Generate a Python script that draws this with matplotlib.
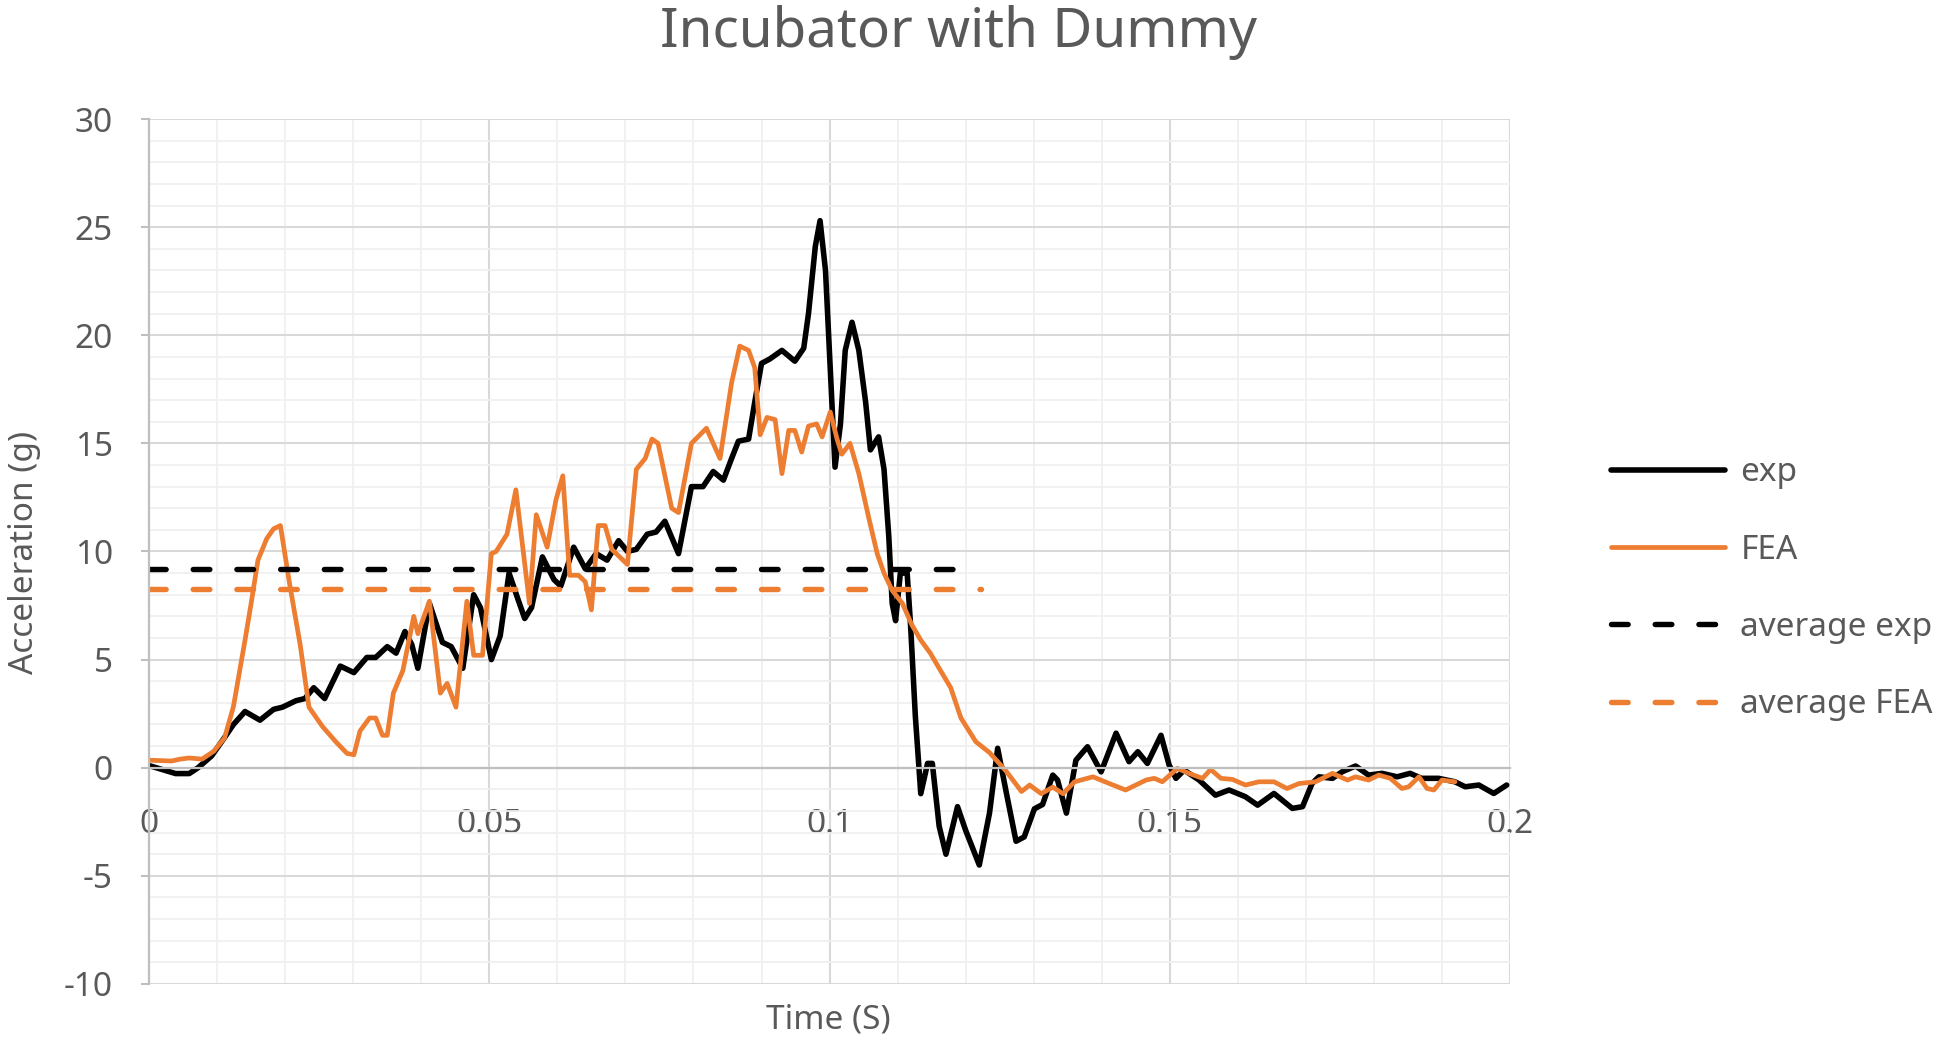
import matplotlib.pyplot as plt
from matplotlib.ticker import MultipleLocator, FuncFormatter

# measured curve (exp)
exp_time = [0.0000, 0.0026, 0.0039, 0.0059, 0.0072, 0.0092, 0.0111, 0.0124, 0.0141, 0.0163,
            0.0183, 0.0196, 0.0216, 0.0229, 0.0242, 0.0258, 0.0281, 0.0301, 0.0320, 0.0333,
            0.0350, 0.0363, 0.0376, 0.0386, 0.0395, 0.0412, 0.0431, 0.0444, 0.0461, 0.0477,
            0.0487, 0.0503, 0.0516, 0.0529, 0.0542, 0.0552, 0.0562, 0.0578, 0.0595, 0.0605,
            0.0624, 0.0641, 0.0657, 0.0673, 0.0690, 0.0703, 0.0716, 0.0732, 0.0745, 0.0758,
            0.0778, 0.0797, 0.0814, 0.0829, 0.0844, 0.0856, 0.0866, 0.0881, 0.0890, 0.0900,
            0.0912, 0.0930, 0.0949, 0.0962, 0.0969, 0.0979, 0.0986, 0.0994, 0.1001, 0.1008,
            0.1016, 0.1023, 0.1033, 0.1043, 0.1053, 0.1060, 0.1072, 0.1080, 0.1087, 0.1092,
            0.1097, 0.1104, 0.1114, 0.1119, 0.1126, 0.1134, 0.1144, 0.1151, 0.1161, 0.1171,
            0.1188, 0.1200, 0.1220, 0.1235, 0.1247, 0.1260, 0.1274, 0.1286, 0.1301, 0.1313,
            0.1328, 0.1335, 0.1348, 0.1362, 0.1379, 0.1399, 0.1421, 0.1440, 0.1453, 0.1467,
            0.1487, 0.1499, 0.1509, 0.1521, 0.1543, 0.1567, 0.1587, 0.1611, 0.1629, 0.1653,
            0.1680, 0.1695, 0.1709, 0.1719, 0.1739, 0.1753, 0.1773, 0.1792, 0.1812, 0.1834,
            0.1853, 0.1870, 0.1895, 0.1919, 0.1934, 0.1954, 0.1976, 0.1995]
exp_acc = [0.10, -0.15, -0.27, -0.27, 0.00, 0.55, 1.40, 2.00, 2.60, 2.20,
           2.70, 2.80, 3.10, 3.20, 3.70, 3.20, 4.70, 4.40, 5.10, 5.10,
           5.60, 5.30, 6.30, 5.70, 4.60, 7.60, 5.80, 5.60, 4.60, 8.00,
           7.40, 5.00, 6.10, 9.00, 7.80, 6.90, 7.40, 9.75, 8.70, 8.40,
           10.20, 9.20, 9.90, 9.60, 10.50, 10.00, 10.10, 10.80, 10.90, 11.40,
           9.90, 13.00, 13.00, 13.70, 13.30, 14.30, 15.10, 15.20, 16.90, 18.70,
           18.90, 19.30, 18.80, 19.40, 21.00, 24.10, 25.30, 23.00, 18.50, 13.90,
           15.90, 19.30, 20.60, 19.30, 16.90, 14.70, 15.30, 13.80, 10.70, 7.60,
           6.80, 9.00, 9.00, 6.60, 2.40, -1.20, 0.20, 0.20, -2.70, -4.00,
           -1.80, -2.90, -4.50, -2.10, 0.90, -1.20, -3.40, -3.20, -1.90, -1.70,
           -0.34, -0.57, -2.10, 0.35, 0.97, -0.19, 1.60, 0.28, 0.74, 0.20,
           1.50, 0.12, -0.49, -0.11, -0.57, -1.27, -1.03, -1.34, -1.73, -1.19,
           -1.88, -1.80, -0.73, -0.42, -0.49, -0.19, 0.08, -0.34, -0.26, -0.42,
           -0.26, -0.49, -0.49, -0.65, -0.88, -0.80, -1.19, -0.80]

# simulation curve (FEA)
fea_time = [0.0000, 0.0033, 0.0046, 0.0059, 0.0078, 0.0095, 0.0111, 0.0124, 0.0141, 0.0150,
            0.0160, 0.0173, 0.0183, 0.0193, 0.0206, 0.0222, 0.0235, 0.0255, 0.0275, 0.0291,
            0.0301, 0.0310, 0.0324, 0.0333, 0.0343, 0.0350, 0.0359, 0.0373, 0.0389, 0.0395,
            0.0412, 0.0428, 0.0438, 0.0451, 0.0467, 0.0477, 0.0490, 0.0503, 0.0510, 0.0526,
            0.0539, 0.0559, 0.0569, 0.0585, 0.0598, 0.0608, 0.0618, 0.0631, 0.0641, 0.0650,
            0.0660, 0.0670, 0.0680, 0.0703, 0.0716, 0.0729, 0.0739, 0.0748, 0.0768, 0.0778,
            0.0797, 0.0819, 0.0839, 0.0856, 0.0868, 0.0881, 0.0890, 0.0898, 0.0908, 0.0920,
            0.0930, 0.0940, 0.0949, 0.0959, 0.0969, 0.0981, 0.0989, 0.1001, 0.1011, 0.1018,
            0.1030, 0.1043, 0.1058, 0.1070, 0.1080, 0.1092, 0.1107, 0.1121, 0.1134, 0.1148,
            0.1161, 0.1178, 0.1193, 0.1215, 0.1235, 0.1259, 0.1282, 0.1294, 0.1311, 0.1328,
            0.1343, 0.1360, 0.1387, 0.1411, 0.1435, 0.1465, 0.1477, 0.1489, 0.1511, 0.1528,
            0.1548, 0.1560, 0.1575, 0.1592, 0.1611, 0.1631, 0.1653, 0.1672, 0.1690, 0.1714,
            0.1739, 0.1761, 0.1773, 0.1792, 0.1807, 0.1824, 0.1841, 0.1851, 0.1866, 0.1878,
            0.1888, 0.1900, 0.1919]
fea_acc = [0.35, 0.31, 0.40, 0.45, 0.40, 0.76, 1.38, 2.83, 5.90, 7.60,
           9.60, 10.60, 11.05, 11.20, 8.60, 5.70, 2.80, 1.90, 1.18, 0.66,
           0.60, 1.70, 2.30, 2.30, 1.50, 1.50, 3.45, 4.50, 7.00, 6.20,
           7.70, 3.45, 3.90, 2.80, 7.70, 5.20, 5.20, 9.90, 10.00, 10.80,
           12.85, 7.60, 11.70, 10.20, 12.40, 13.50, 8.90, 8.90, 8.60, 7.30,
           11.20, 11.20, 10.10, 9.40, 13.80, 14.30, 15.20, 15.00, 12.00, 11.80,
           15.00, 15.70, 14.30, 17.80, 19.50, 19.30, 18.50, 15.40, 16.20, 16.10,
           13.60, 15.60, 15.60, 14.60, 15.80, 15.90, 15.30, 16.45, 15.20, 14.50,
           15.00, 13.60, 11.50, 9.90, 9.00, 8.20, 7.60, 6.60, 5.90, 5.30,
           4.60, 3.70, 2.30, 1.20, 0.70, -0.14, -1.10, -0.80, -1.20, -0.90,
           -1.20, -0.65, -0.42, -0.73, -1.03, -0.57, -0.49, -0.65, -0.03, -0.26,
           -0.49, -0.08, -0.49, -0.54, -0.80, -0.65, -0.65, -0.96, -0.73, -0.65,
           -0.26, -0.57, -0.42, -0.57, -0.34, -0.49, -0.96, -0.88, -0.42, -0.96,
           -1.03, -0.57, -0.65]

# averages and the time span they are drawn over
avg_exp = 9.2
avg_exp_end = 0.1185
avg_fea = 8.25
avg_fea_end = 0.1222

TXT = '#595959'
ORANGE = '#ED7D31'
DASH = (0, (3.07, 5.0))

plt.rcParams['font.family'] = ['Noto Sans', 'DejaVu Sans']
plt.rcParams['axes.unicode_minus'] = False

fig = plt.figure(figsize=(19.46, 10.44), dpi=100)
ax = fig.add_axes([0.0766, 0.0575, 0.6994, 0.8285])

ax.plot(exp_time, exp_acc, color='black', lw=4.0, label='exp',
        solid_joinstyle='round', solid_capstyle='round')
ax.plot(fea_time, fea_acc, color=ORANGE, lw=3.4, label='FEA',
        solid_joinstyle='round', solid_capstyle='round')
ax.plot([0, avg_exp_end], [avg_exp, avg_exp], color='black', lw=3.9,
        ls=DASH, dash_capstyle='round', label='average exp')
ax.plot([0, avg_fea_end], [avg_fea, avg_fea], color=ORANGE, lw=3.9,
        ls=DASH, dash_capstyle='round', label='average FEA')

ax.set_xlim(0, 0.2)
ax.set_ylim(-10, 30)
ax.xaxis.set_major_locator(MultipleLocator(0.05))
ax.xaxis.set_minor_locator(MultipleLocator(0.01))
ax.yaxis.set_major_locator(MultipleLocator(5))
ax.yaxis.set_minor_locator(MultipleLocator(1))
ax.xaxis.set_major_formatter(FuncFormatter(lambda v, p: '%g' % round(v, 3)))
ax.yaxis.set_major_formatter(FuncFormatter(lambda v, p: '%d' % v))

ax.set_axisbelow(True)
ax.grid(which='major', color='#d9d9d9', lw=1.5)
ax.grid(which='minor', color='#f0f0f0', lw=1.3)

for s in ['top', 'right']:
    ax.spines[s].set_visible(False)
ax.spines['left'].set_color('#bfbfbf')
ax.spines['left'].set_linewidth(1.6)
ax.spines['bottom'].set_position(('data', 0))
ax.spines['bottom'].set_color('#bfbfbf')
ax.spines['bottom'].set_linewidth(1.6)

ax.tick_params(axis='x', which='both', length=0, pad=29, labelsize=24, labelcolor=TXT)
ax.tick_params(axis='y', which='major', length=6, width=1.5, color='#bfbfbf',
               pad=20, labelsize=24, labelcolor=TXT)
ax.tick_params(axis='y', which='minor', length=0)

fig.text(0.4928, 0.955, 'Incubator with Dummy', ha='center', va='baseline',
         fontsize=39.5, color=TXT)
fig.text(0.4255, 0.023, 'Time (S)', ha='center', va='center', fontsize=24, color=TXT)
fig.text(0.0125, 0.471, 'Acceleration (g)', ha='center', va='center', rotation=90,
         fontsize=24, color=TXT)

leg = fig.legend(loc='center left', bbox_to_anchor=(0.828, 0.436), frameon=False,
                 fontsize=24, handlelength=3.42, handletextpad=0.45, labelspacing=1.33,
                 borderpad=0, borderaxespad=0)
for t in leg.get_texts():
    t.set_color(TXT)

fig.savefig('out.png', dpi=100)
